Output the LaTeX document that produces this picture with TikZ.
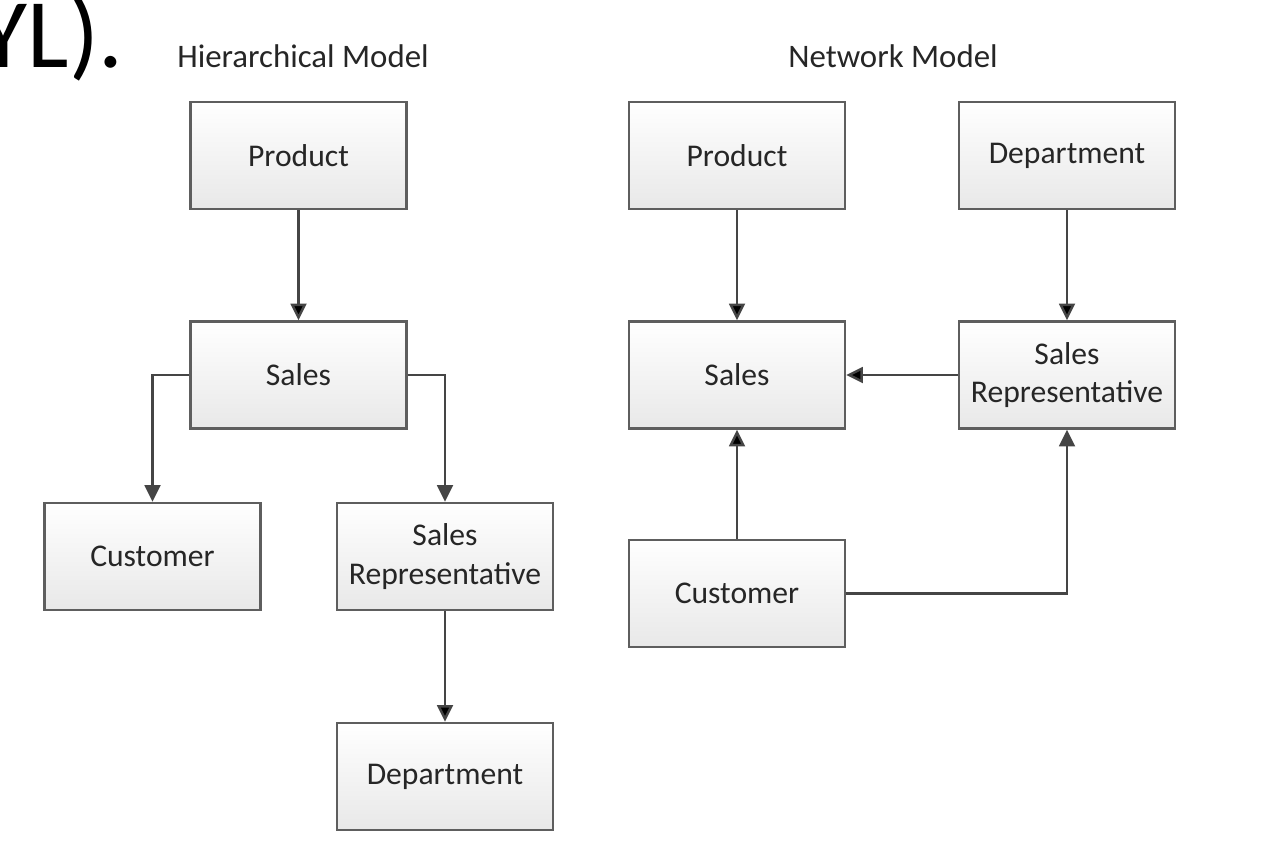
\documentclass[tikz,border=0pt]{standalone}
\usepackage{fontspec}
\setmainfont{Carlito}
\usepackage{xcolor}
\usepackage{tikz}
\usetikzlibrary{
  arrows.meta,
  calc,
  shadings
}
\definecolor{boxline}{HTML}{5E5E5E}
\definecolor{arrowline}{HTML}{454545}
\definecolor{labeltext}{HTML}{262626}
\tikzset{
  entity/.style={
    draw=boxline,
    line width=1.4pt,
    top color=white,
    bottom color=black!9,
    minimum width=4.32cm,
    minimum height=2.14cm,
    align=center,
    text=labeltext,
    font=\fontsize{18}{22}\selectfont},
  link/.style={
    -{Triangle[length=9.5pt,width=9pt]},
    draw=arrowline,
    line width=1.4pt},
  heading/.style={
    text=labeltext,
    font=\fontsize{18.7}{22}\selectfont}
  }

\begin{document}
\begin{tikzpicture}[x=0.02cm,y=-0.02cm]
    \useasboundingbox (0,0) rectangle (1288,860);
    \node[anchor=base east, font=\fontsize{56}{60}\selectfont] (cut) at (130,67) {YL).};
    \node[heading, anchor=base] (htitle) at (303,67) {Hierarchical Model};
    \node[heading, anchor=base] (ntitle) at (893,67) {Network Model};
    \node[entity] (hprod) at (298.5,155.5) {Product};
    \node[entity] (hsales) at (298.5,375) {Sales};
    \node[entity] (hcust) at (152.5,556.5) {Customer};
    \node[entity] (hrep) at (445,556.5) {Sales\\Representative};
    \node[entity] (hdept) at (445,776.5) {Department};
    \node[entity] (nprod) at (737,155.5) {Product};
    \node[entity] (ndept) at (1067,155.5) {Department};
    \node[entity] (nsales) at (737,375) {Sales};
    \node[entity] (nrep) at (1067,375) {Sales\\Representative};
    \node[entity] (ncust) at (737,593.5) {Customer};
    \draw [link]
    (hprod) edge[] (hsales)
    (hrep) edge[] (hdept)
    (nprod) edge[] (nsales)
    (ndept) edge[] (nrep)
    (nrep) edge[] (nsales)
    (ncust) edge[] (nsales);
    \draw [link] (hsales.west) -| (hcust.north);
    \draw [link] (hsales.east) -| (hrep.north);
    \draw [link] (ncust.east) -| (nrep.south);
  \end{tikzpicture}
\end{document}
